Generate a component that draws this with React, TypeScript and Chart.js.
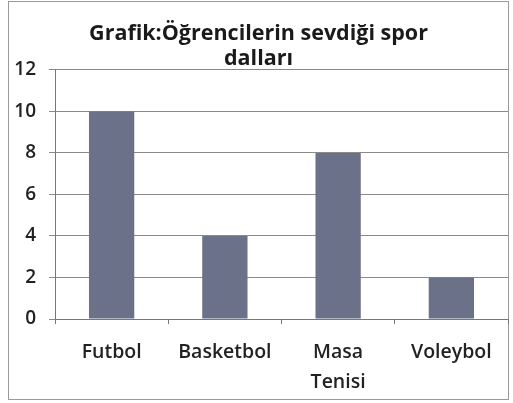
import React, { useEffect, useRef } from "react";
import { Chart, registerables } from "chart.js";

Chart.register(...registerables);

const titleLines = ["Grafik:Öğrencilerin sevdiği spor", "dalları"];
const categories = [["Futbol"], ["Basketbol"], ["Masa", "Tenisi"], ["Voleybol"]];
const values = [10, 4, 8, 2];
const yTicks = [0, 2, 4, 6, 8, 10, 12];

const FONT = "'Open Sans', Lato, sans-serif";

const frame = {
  id: "frame",
  beforeDraw(chart: any) {
    const ctx = chart.ctx;
    ctx.save();
    ctx.fillStyle = "#ffffff";
    ctx.fillRect(0, 0, chart.width, chart.height);
    ctx.strokeStyle = "#9a9a9a";
    ctx.lineWidth = 1;
    ctx.strokeRect(8.5, 1.5, 500, 398);
    ctx.restore();
  },
};

export default function App() {
  const ref = useRef<HTMLCanvasElement>(null);
  useEffect(() => {
    if (!ref.current) return;
    const chart = new Chart(ref.current, {
      type: "bar",
      data: {
        labels: categories as any,
        datasets: [
          {
            data: values,
            backgroundColor: "#6b7189",
            borderWidth: 0,
            barPercentage: 0.4,
            categoryPercentage: 1,
          },
        ],
      },
      options: {
        responsive: false,
        animation: false,
        layout: { padding: { left: 9, right: 5, top: 0, bottom: 0 } },
        plugins: {
          legend: { display: false },
          tooltip: { enabled: false },
          title: {
            display: true,
            text: titleLines,
            color: "#1a1a1a",
            font: { family: FONT, size: 21.5, weight: "bold", lineHeight: 1.16 },
            padding: { top: 21, bottom: -1 },
          },
        },
        scales: {
          x: {
            grid: {
              display: true,
              drawOnChartArea: false,
              drawTicks: true,
              tickLength: 5,
              color: "#777",
              offset: true,
            },
            border: { display: true, color: "#777" },
            ticks: {
              color: "#222",
              font: { family: FONT, size: 19.5, weight: "600", lineHeight: 1.54 },
              padding: 13,
              maxRotation: 0,
              autoSkip: false,
            },
            afterFit: (s: any) => {
              s.height = 84;
            },
          },
          y: {
            min: 0,
            max: 12,
            afterBuildTicks: (s: any) => {
              s.ticks = yTicks.map((v) => ({ value: v }));
            },
            grid: { color: "#8a8a8a", tickLength: 6 },
            border: { display: true, color: "#777" },
            ticks: {
              color: "#222",
              font: { family: FONT, size: 19, weight: "600" },
              padding: 13,
            },
            afterFit: (s: any) => {
              s.width = 46;
            },
          },
        },
      },
      plugins: [frame],
    });
    return () => chart.destroy();
  }, []);
  return (
    <canvas
      ref={ref}
      width={513}
      height={403}
      style={{ position: "fixed", left: 0, top: 0, width: 513, height: 403 }}
    />
  );
}
